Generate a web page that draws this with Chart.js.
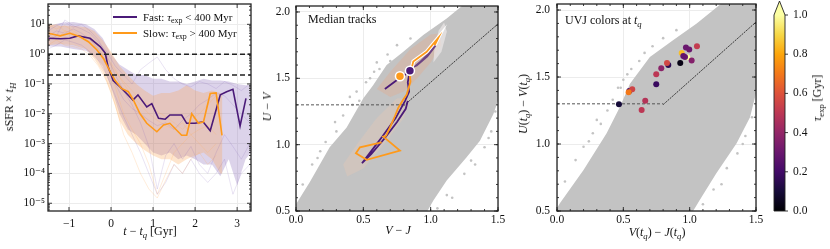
<!DOCTYPE html>
<html><head><meta charset="utf-8">
<script src="https://cdn.jsdelivr.net/npm/chart.js@4"></script>
<style>
html,body{margin:0;padding:0;background:#fff;}
#wrap{position:relative;width:830px;height:249px;overflow:hidden;font-family:'Liberation Serif','DejaVu Serif',serif;color:#111;}
canvas{position:absolute;left:0;top:0;}
.t{position:absolute;white-space:nowrap;font-size:12px;line-height:1;transform:translate(-50%,-50%);}
.l{position:absolute;white-space:nowrap;font-size:11px;line-height:1;transform:translate(0,-50%);}
.rot{transform:translate(-50%,-50%) rotate(-90deg);}
sub{font-size:72%;vertical-align:-0.3em;line-height:0;}
.sw{position:absolute;height:2px;width:24px;}
</style></head>
<body><div id="wrap">
<div class="t rot" style="left:9px;top:107px;">sSFR × <i>t</i><sub><i>H</i></sub></div>
<div class="t" style="left:150px;top:231px;"><i>t</i> − <i>t<sub>q</sub></i> [Gyr]</div>
<div class="sw" style="left:113px;top:16px;background:#4a1a78;"></div>
<div class="l" style="left:143px;top:17px;">Fast: <i>τ</i><sub>exp</sub> &lt; 400 Myr</div>
<div class="sw" style="left:113px;top:32px;background:#ff9a1a;"></div>
<div class="l" style="left:143px;top:33px;">Slow: <i>τ</i><sub>exp</sub> &gt; 400 Myr</div>
<div class="t rot" style="left:267px;top:107px;"><i>U</i> − <i>V</i></div>
<div class="t" style="left:398px;top:230px;"><i>V</i> − <i>J</i></div>
<div class="l" style="left:308px;top:19px;font-size:12px;">Median tracks</div>
<div class="t rot" style="left:523px;top:104px;"><i>U</i>(<i>t<sub>q</sub></i>) − <i>V</i>(<i>t<sub>q</sub></i>)</div>
<div class="t" style="left:657px;top:232px;"><i>V</i>(<i>t<sub>q</sub></i>) − <i>J</i>(<i>t<sub>q</sub></i>)</div>
<div class="l" style="left:565px;top:20px;font-size:12px;">UVJ colors at <i>t<sub>q</sub></i></div>
<div class="t rot" style="left:817px;top:98px;"><i>τ</i><sub>exp</sub> [Gyr]</div>
</div>
<script>
// ---------------- DATA ----------------
// Panel 1: sSFR x tH vs t - tq
const timeTicks = [-1, 0, 1, 2, 3];
const timeTickLabels = ['−1', '0', '1', '2', '3'];
const sfrTicks = [1e-5, 1e-4, 1e-3, 1e-2, 1e-1, 1, 10];
const sfrTickLabels = ['10⁻⁵', '10⁻⁴', '10⁻³', '10⁻²', '10⁻¹', '10⁰', '10¹'];
const sfrThresholds = [1.0, 0.2];

const fastTime   = [-1.49,-1.2,-0.98,-0.79,-0.5,-0.26,-0.14,-0.07,0.05,0.21,0.37,0.52,0.64,0.85,0.97,1.13,1.29,1.40,1.68,1.80,2.0,2.19,2.36,2.60,2.75,2.90,3.07,3.21];
const fastMedian = [3.4,3.3,3.4,4.1,3.4,1.8,1.1,0.38,0.13,0.081,0.048,0.029,0.043,0.017,0.022,0.0071,0.0066,0.0091,0.0091,0.0048,0.0048,0.0054,0.0027,0.043,0.055,0.066,0.0039,0.033];
const slowTime   = [-1.49,-1.21,-0.98,-0.74,-0.54,-0.34,-0.18,-0.02,0.10,0.25,0.41,0.53,0.69,0.85,1.09,1.25,1.40,1.68,1.80,1.92,2.08,2.20,2.36,2.50,2.64];
const slowMedian = [5.0,4.1,5.0,3.8,2.6,1.4,0.72,0.26,0.13,0.071,0.055,0.029,0.010,0.0048,0.0025,0.0042,0.0048,0.0019,0.0019,0.010,0.0048,0.0054,0.048,0.05,0.0019];

const fastBandTime = [-1.5,-1.2,-0.9,-0.6,-0.4,-0.2,0,0.2,0.4,0.6,0.8,1.0,1.2,1.4,1.6,1.8,2.0,2.2,2.4,2.6,2.8,3.0,3.2,3.33];
const fastBandHi   = [9,11,12,10,7,3.5,1.0,0.45,0.3,0.2,0.2,0.15,0.15,0.12,0.12,0.1,0.12,0.15,0.13,0.13,0.12,0.1,0.09,0.09];
const fastBandLo   = [1.8,1.8,1.5,1.3,0.9,0.4,0.08,0.01,0.003,0.002,0.001,5e-4,4e-4,5e-4,3e-4,4e-4,3e-4,2e-4,2e-4,8e-5,3e-4,4e-5,3e-4,5e-4];
const slowBandTime = [-1.5,-1.2,-0.9,-0.6,-0.4,-0.2,0,0.2,0.4,0.6,0.8,1.0,1.2,1.4,1.6,1.8,2.0,2.2,2.4,2.6,2.65];
const slowBandHi   = [10,9,9,8,6,3,1.2,0.4,0.2,0.1,0.06,0.04,0.05,0.05,0.06,0.09,0.06,0.05,0.06,0.05,0.04];
const slowBandLo   = [2,2.2,2,1.5,0.7,0.25,0.05,0.006,0.002,0.001,6e-4,4e-4,3e-4,3e-4,2e-4,3e-4,4e-4,5e-4,3e-4,1e-4,1e-4];

const trackTime = [-1.5,-1.3,-1.1,-0.9,-0.7,-0.5,-0.3,-0.1,0.1,0.3,0.5,0.7,0.9,1.1,1.3,1.5,1.7,1.9,2.1,2.3,2.5,2.7,2.9,3.1,3.3];
const fastTrackA = [6,9,12,8,10,6,3,0.9,0.2,0.06,0.02,0.005,0.0008,3e-5,0.0004,0.001,0.0003,0.0008,0.0002,0.0001,0.0005,0.002,0.0008,0.0003,0.001];
const fastTrackB = [3,4,14,9,7,5,2.5,1.2,0.4,0.2,0.1,0.3,0.5,0.8,0.3,0.15,0.1,0.08,0.12,0.1,0.07,0.12,0.09,0.06,0.1];
const fastTrackC = [1.5,2,3,2.5,2,1.2,0.6,0.2,0.04,0.008,0.002,0.0005,0.0001,2e-5,5e-5,0.0002,0.0001,0.0003,0.0001,5e-5,0.0001,0.0003,2e-5,0.0001,0.0002];
const fastTrackD = [4,6,5,7,5,3,1.5,0.5,0.1,0.03,0.015,0.01,0.006,0.004,0.005,0.003,0.006,0.01,0.02,0.03,0.05,0.04,0.02,0.01,0.005];
const slowTrackA = [8,10,6,5,4,2.5,1.2,0.4,0.08,0.01,0.003,0.001,0.0002,2e-5,0.0001,0.0005,0.001,0.002,0.001,0.0005,0.001];
const slowTrackB = [5,3,6,5,3.5,2.5,1.5,0.7,0.25,0.12,0.06,0.03,0.02,0.012,0.008,0.005,0.003,0.006,0.01,0.02,0.04];
const slowTrackC = [2,3,2,1.8,1.5,0.9,0.4,0.12,0.02,0.002,0.0005,0.0001,3e-5,1.5e-5,6e-5,0.0002,0.0001,0.0003,0.0005,0.0002,0.0004];
const slowTrackD = [10,7,9,6,4,3,1.8,0.8,0.3,0.1,0.04,0.02,0.01,0.006,0.004,0.003,0.005,0.002,0.003,0.004,0.002];

// Panels 2 & 3: UVJ
const vjTicks = [0, 0.5, 1.0, 1.5];
const vjTickLabels = ['0.0', '0.5', '1.0', '1.5'];
const uvTicks = [0.5, 1.0, 1.5, 2.0];
const uvTickLabels = ['0.5', '1.0', '1.5', '2.0'];
const boxFlatVJ = [0, 0.8], boxFlatUV = [1.3, 1.3];
const boxDiagVJ = [0.8, 1.5], boxDiagUV = [1.294, 1.91];

const cloud2VJ = [0.0,0.104,0.25,0.376,0.50,0.574,0.673,0.797,0.945,1.119,1.25,1.5,1.5,1.465,1.366,1.267,1.119,1.02,0.97,0.0,0.0];
const cloud2UV = [0.55,0.72,0.98,1.13,1.35,1.45,1.60,1.70,1.826,1.95,2.06,2.06,1.33,1.23,1.03,0.905,0.73,0.58,0.49,0.49,0.55];
const out2VJ = [0.05,0.12,0.16,0.22,0.30,0.35,0.40,0.42,0.45,0.52,0.58,0.60,0.62,0.68,0.75,0.85,1.05,1.12,1.25,1.30,1.40,1.45,1.48,0.29,0.55,0.18,0.47,0.70,1.16,1.33,1.43];
const out2UV = [0.70,0.85,0.90,1.02,1.10,1.22,1.36,1.30,1.40,1.47,1.55,1.62,1.57,1.68,1.75,1.80,0.52,0.62,0.78,0.88,0.98,1.10,1.25,1.17,1.50,0.95,1.33,1.63,0.60,0.85,1.05];
const cloud3VJ = [0.0,0.023,0.20,0.374,0.475,0.55,0.70,0.877,1.053,1.253,1.5,1.5,1.455,1.354,1.20,1.075,1.02,0.0,0.0];
const cloud3UV = [0.52,0.56,0.806,1.08,1.278,1.45,1.65,1.776,1.90,2.06,2.06,1.378,1.20,1.005,0.78,0.58,0.49,0.49,0.52];
const out3VJ = [0.06,0.14,0.20,0.27,0.33,0.38,0.42,0.46,0.50,0.56,0.62,0.66,0.72,0.80,0.90,1.10,1.18,1.28,1.36,1.42,1.47,0.30,0.48,0.24,0.53,1.24,1.40];
const out3UV = [0.72,0.88,0.98,1.08,1.15,1.25,1.33,1.42,1.48,1.56,1.62,1.68,1.73,1.79,1.85,0.55,0.66,0.82,0.93,1.06,1.20,1.18,1.42,1.02,1.52,0.70,1.00];

const kdePeachVJ = [0.60,0.70,0.85,1.0,1.07,1.08,1.0,0.9,0.8,0.70,0.60];
const kdePeachUV = [1.42,1.55,1.72,1.83,1.84,1.75,1.62,1.50,1.40,1.36,1.42];
const kdeLowVJ = [0.35,0.45,0.60,0.75,0.85,0.80,0.65,0.50,0.38,0.35];
const kdeLowUV = [0.85,1.00,1.20,1.35,1.35,1.20,1.00,0.82,0.76,0.85];
const kdeWedgeVJ = [0.85,0.92,0.99,1.05,1.04,0.98,0.90,0.85];
const kdeWedgeUV = [1.57,1.63,1.70,1.79,1.74,1.66,1.59,1.57];
const kdePaleVJ = [1.02,1.08,1.12,1.10,1.06,1.03,1.02];
const kdePaleUV = [1.62,1.70,1.85,1.92,1.86,1.75,1.62];

const fastTrackVJ = [0.66,0.74,0.80,0.846,0.83,0.84,0.81,0.74,0.64,0.55,0.49,0.56,0.66,0.75,0.815,0.83];
const fastTrackUV = [1.42,1.48,1.52,1.557,1.47,1.40,1.33,1.20,1.06,0.94,0.86,0.93,1.05,1.17,1.27,1.33];
const slowTrackVJ = [0.636,0.475,0.445,0.525,0.772,0.648,0.668,0.698,0.735,0.76,0.797,0.822,0.85,0.845,0.859,0.871,0.97,1.057,1.03];
const slowTrackUV = [1.017,0.98,0.935,0.886,0.955,1.06,1.067,1.13,1.216,1.278,1.34,1.378,1.475,1.53,1.577,1.627,1.70,1.806,1.75];
const fastTqVJ = [0.846], fastTqUV = [1.557];
const slowTqVJ = [0.772], slowTqUV = [1.515];

// Panel 3 points at tq
const tqVJ  = [0.972,0.997,1.055,0.94,0.982,0.965,0.952,1.015,0.929,0.839,0.829,0.786,0.748,0.748,0.545,0.567,0.54,0.467,0.665,0.638];
const tqUV  = [1.72,1.706,1.73,1.68,1.647,1.65,1.657,1.624,1.604,1.59,1.604,1.565,1.52,1.446,1.395,1.408,1.386,1.296,1.323,1.254];
const tqTau = [0.30,0.30,0.52,0.85,1.0,0.30,0.28,0.36,0.03,0.15,0.56,0.38,0.50,0.18,0.20,0.55,0.70,0.10,0.48,0.50];
const cbarTicks = [0, 0.2, 0.4, 0.6, 0.8, 1.0];
const cbarTickLabels = ['0.0', '0.2', '0.4', '0.6', '0.8', '1.0'];

// ---------------- STYLE / HELPERS ----------------
const INFERNO = ['#000004','#160b39','#420a68','#6a176e','#932667','#bc3754','#dd513a','#f37819','#fca50a','#f6d746','#fcffa4'];
function hex2rgb(h){return [parseInt(h.slice(1,3),16),parseInt(h.slice(3,5),16),parseInt(h.slice(5,7),16)];}
function inferno(v){
  v = Math.max(0, Math.min(1, v)) * 10; const i = Math.min(9, Math.floor(v)); const f = v - i;
  const a = hex2rgb(INFERNO[i]), b = hex2rgb(INFERNO[i+1]);
  return 'rgb(' + a.map((c,k)=>Math.round(c + (b[k]-c)*f)).join(',') + ')';
}
const PURPLE = '#4a1a78', ORANGE = '#ff9a1a', GRAYPT = '#c3c3c3', FRAME = '#222';
const pts = (xs, ys) => xs.map((x,i)=>({x:x, y:ys[i]}));
const tpts = (ys) => ys.map((y,i)=>({x:trackTime[i], y:y}));
const range = (a,b,s) => { const r=[]; for(let v=a; v<=b+1e-9; v+=s) r.push(+v.toFixed(4)); return r; };
const logMinor = []; for (let e=-6; e<=1; e++) for (let m=2; m<=9; m++) logMinor.push(m*Math.pow(10,e));

Chart.defaults.font.family = "'Liberation Serif','DejaVu Serif',serif";
Chart.defaults.font.size = 11.5;
Chart.defaults.color = '#111';
Chart.defaults.animation = false;

const wrap = document.getElementById('wrap');
function makeCtx(){
  const c = document.createElement('canvas'); c.width = 830; c.height = 249;
  c.style.width='830px'; c.style.height='249px';
  wrap.insertBefore(c, wrap.firstChild); return c.getContext('2d');
}
const zeroPad = s => { s.paddingLeft = 0; s.paddingRight = 0; s.paddingTop = 0; s.paddingBottom = 0; };

const frameTicks = {
  id: 'frameTicks',
  afterDraw(chart, args, o){
    if (!o || !o.on) return;
    const ctx = chart.ctx, a = chart.chartArea, xs = chart.scales.x, ys = chart.scales.y;
    ctx.save(); ctx.strokeStyle = FRAME; ctx.lineWidth = 0.9;
    const seg=(x1,y1,x2,y2)=>{ctx.beginPath();ctx.moveTo(x1,y1);ctx.lineTo(x2,y2);ctx.stroke();};
    const dx=(vals,len)=>vals.forEach(v=>{const p=xs.getPixelForValue(v); if(p<a.left-0.5||p>a.right+0.5) return; seg(p,a.bottom,p,a.bottom-len); seg(p,a.top,p,a.top+len);});
    const dy=(vals,len)=>vals.forEach(v=>{const p=ys.getPixelForValue(v); if(p<a.top-0.5||p>a.bottom+0.5) return; seg(a.left,p,a.left+len,p); seg(a.right,p,a.right-len,p);});
    dx(o.xMajor||[],4); dx(o.xMinor||[],2); dy(o.yMajor||[],4); dy(o.yMinor||[],2);
    ctx.lineWidth = 1.3; ctx.strokeRect(a.left, a.top, a.right-a.left, a.bottom-a.top);
    ctx.restore();
  }
};

function axisX(min,max,ticks,labels,pad,h){
  return {type:'linear', min:min, max:max,
    afterBuildTicks:s=>{s.ticks = ticks.map(v=>({value:v}));},
    afterFit:s=>{s.height=h; zeroPad(s);},
    ticks:{callback:(v,i)=>labels[i], padding:pad, maxRotation:0, autoSkip:false, color:'#111'},
    grid:{color:'#ececec', lineWidth:1, drawTicks:false}, border:{display:false}};
}
function axisY(type,min,max,ticks,labels,pad,w){
  return {type:type, min:min, max:max,
    afterBuildTicks:s=>{s.ticks = ticks.map(v=>({value:v}));},
    afterFit:s=>{s.width=w; zeroPad(s);},
    ticks:{callback:(v,i)=>labels[i], padding:pad, autoSkip:false, color:'#111'},
    grid:{color:'#ececec', lineWidth:1, drawTicks:false}, border:{display:false}};
}
const lineDS = (data, color, width, order, extra) => Object.assign({data:data, showLine:true, borderColor:color, borderWidth:width, pointRadius:0, fill:false, order:order, tension:0}, extra||{});
const polyDS = (data, color, order) => ({data:data, showLine:true, borderColor:'rgba(0,0,0,0)', borderWidth:0.01, backgroundColor:color, pointRadius:0, fill:'shape', order:order, tension:0});
const bandDS = (data, color, fill, order) => ({data:data, showLine:true, borderColor:'rgba(0,0,0,0)', borderWidth:0.01, pointRadius:0, fill:fill, backgroundColor:color, order:order});
const baseOpts = (pad, frame, scales) => ({responsive:false, devicePixelRatio:1, events:[],
    layout:{padding:pad},
    plugins:{legend:{display:false}, tooltip:{enabled:false}, frameTicks:frame},
    scales:scales});

// ---------------- PANEL 1 ----------------
const xr1 = [-1.5, 3.33];
new Chart(makeCtx(), {
  type:'scatter',
  data:{datasets:[
    bandDS(pts(fastBandTime,fastBandHi), 'rgba(120,85,175,0.26)', '+1', 60),
    bandDS(pts(fastBandTime,fastBandLo), 'rgba(0,0,0,0)', false, 59),
    bandDS(pts(slowBandTime,slowBandHi), 'rgba(250,155,60,0.26)', '+1', 58),
    bandDS(pts(slowBandTime,slowBandLo), 'rgba(0,0,0,0)', false, 57),
    lineDS(tpts(fastTrackA),'rgba(125,95,185,0.22)',0.8,50),
    lineDS(tpts(fastTrackB),'rgba(125,95,185,0.22)',0.8,50),
    lineDS(tpts(fastTrackC),'rgba(125,95,185,0.22)',0.8,50),
    lineDS(tpts(fastTrackD),'rgba(125,95,185,0.22)',0.8,50),
    lineDS(tpts(slowTrackA),'rgba(255,175,90,0.28)',0.8,50),
    lineDS(tpts(slowTrackB),'rgba(255,175,90,0.28)',0.8,50),
    lineDS(tpts(slowTrackC),'rgba(255,175,90,0.28)',0.8,50),
    lineDS(tpts(slowTrackD),'rgba(255,175,90,0.28)',0.8,50),
    lineDS(pts(fastTime,fastMedian), PURPLE, 1.6, 20),
    lineDS(pts(slowTime,slowMedian), ORANGE, 1.6, 19),
    ...sfrThresholds.map(v=>lineDS(pts(xr1,[v,v]), FRAME, 1.5, 5, {borderDash:[5,3]}))
  ]},
  options:baseOpts({left:8, right:579, top:4, bottom:13},
    {on:true, xMajor:timeTicks, yMajor:sfrTicks, yMinor:logMinor},
    {x:axisX(xr1[0],xr1[1],timeTicks,timeTickLabels,6,25),
     y:axisY('logarithmic',5.5e-6,48,sfrTicks,sfrTickLabels,3,40)}),
  plugins:[frameTicks]
});

// ---------------- PANEL 2 ----------------
const minorVJ = range(0,1.5,0.1), minorUV = range(0.5,2.0,0.1);
new Chart(makeCtx(), {
  type:'scatter',
  data:{datasets:[
    polyDS(pts(cloud2VJ,cloud2UV), GRAYPT, 90),
    {data:pts(out2VJ,out2UV), pointRadius:1.3, backgroundColor:GRAYPT, borderWidth:0, order:89},
    polyDS(pts(kdeLowVJ,kdeLowUV), 'rgba(232,200,180,0.35)', 80),
    polyDS(pts(kdePeachVJ,kdePeachUV), 'rgba(222,175,150,0.45)', 79),
    polyDS(pts(kdePaleVJ,kdePaleUV), 'rgba(236,232,232,0.7)', 78),
    polyDS(pts(kdeWedgeVJ,kdeWedgeUV), 'rgba(78,28,118,0.75)', 77),
    lineDS(pts(boxFlatVJ,boxFlatUV), '#555', 1, 60, {borderDash:[3,2]}),
    lineDS(pts(boxDiagVJ,boxDiagUV), '#111', 0.8, 60, {borderDash:[2,1]}),
    lineDS(pts(fastTrackVJ,fastTrackUV), PURPLE, 1.8, 30),
    lineDS(pts(slowTrackVJ.slice(13),slowTrackUV.slice(13)), '#fff', 3.8, 29),
    lineDS(pts(slowTrackVJ,slowTrackUV), ORANGE, 1.8, 28),
    {data:pts(slowTqVJ,slowTqUV), pointRadius:4.5, backgroundColor:ORANGE, borderColor:'#fff', borderWidth:1.5, order:10},
    {data:pts(fastTqVJ,fastTqUV), pointRadius:4.5, backgroundColor:PURPLE, borderColor:'#fff', borderWidth:1.5, order:9}
  ]},
  options:baseOpts({left:256, right:332, top:4, bottom:13},
    {on:true, xMajor:vjTicks, xMinor:minorVJ, yMajor:uvTicks, yMinor:minorUV},
    {x:axisX(0,1.5,vjTicks,vjTickLabels,2,25),
     y:axisY('linear',0.5,2.045,uvTicks,uvTickLabels,6,40)}),
  plugins:[frameTicks]
});

// ---------------- PANEL 3 ----------------
new Chart(makeCtx(), {
  type:'scatter',
  data:{datasets:[
    polyDS(pts(cloud3VJ,cloud3UV), GRAYPT, 90),
    {data:pts(out3VJ,out3UV), pointRadius:1.3, backgroundColor:GRAYPT, borderWidth:0, order:89},
    lineDS(pts(boxFlatVJ,boxFlatUV), '#555', 1, 60, {borderDash:[3,2]}),
    lineDS(pts(boxDiagVJ,boxDiagUV), '#111', 0.8, 60, {borderDash:[2,1]}),
    {data:pts(tqVJ,tqUV), pointRadius:3, backgroundColor:tqTau.map(inferno), borderWidth:0, order:10}
  ]},
  options:baseOpts({left:517, right:74, top:4, bottom:13},
    {on:true, xMajor:vjTicks, xMinor:minorVJ, yMajor:uvTicks, yMinor:minorUV},
    {x:axisX(0,1.5,vjTicks,vjTickLabels,2,25),
     y:axisY('linear',0.5,2.045,uvTicks,uvTickLabels,7,40)}),
  plugins:[frameTicks]
});

// ---------------- COLORBAR ----------------
const cbarPlugin = {
  id:'cbar',
  beforeDatasetsDraw(chart){
    const ctx = chart.ctx, a = chart.chartArea, ys = chart.scales.y;
    const g = ctx.createLinearGradient(0, ys.getPixelForValue(0), 0, ys.getPixelForValue(1));
    INFERNO.forEach((c,i)=>g.addColorStop(i/10, c));
    ctx.save();
    ctx.fillStyle = g; ctx.fillRect(a.left, a.top, a.right-a.left, a.bottom-a.top);
    const cx = (a.left+a.right)/2;
    ctx.beginPath(); ctx.moveTo(a.left,a.top); ctx.lineTo(cx,a.top-14); ctx.lineTo(a.right,a.top); ctx.closePath();
    ctx.fillStyle = INFERNO[10]; ctx.fill();
    ctx.beginPath(); ctx.moveTo(a.left,a.bottom); ctx.lineTo(a.left,a.top); ctx.lineTo(cx,a.top-14); ctx.lineTo(a.right,a.top); ctx.lineTo(a.right,a.bottom); ctx.closePath();
    ctx.strokeStyle = FRAME; ctx.lineWidth = 0.9; ctx.stroke();
    ctx.beginPath();
    cbarTicks.forEach(v=>{const p=ys.getPixelForValue(v); ctx.moveTo(a.right,p); ctx.lineTo(a.right+3,p);});
    ctx.stroke();
    ctx.restore();
  }
};
new Chart(makeCtx(), {
  type:'scatter',
  data:{datasets:[{data:[]}]},
  options:{responsive:false, devicePixelRatio:1, events:[],
    layout:{padding:{left:774, right:10, top:15, bottom:38}},
    plugins:{legend:{display:false}, tooltip:{enabled:false}},
    scales:{x:{display:false, min:0, max:1},
            y:{type:'linear', position:'right', min:0, max:1,
               afterBuildTicks:s=>{s.ticks = cbarTicks.map(v=>({value:v}));},
               afterFit:s=>{s.width=35; zeroPad(s);},
               ticks:{callback:(v,i)=>cbarTickLabels[i], padding:8, color:'#111'},
               grid:{display:false, drawTicks:false}, border:{display:false}}}},
  plugins:[cbarPlugin]
});
</script>
</body></html>
